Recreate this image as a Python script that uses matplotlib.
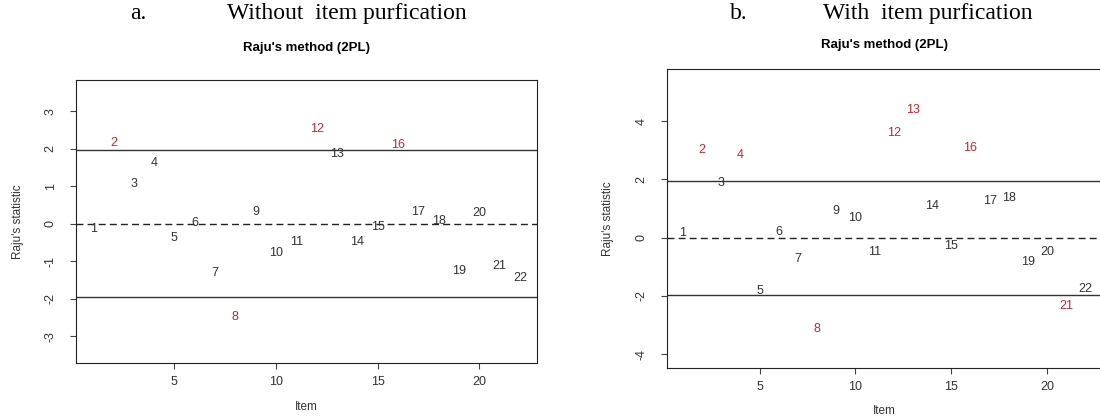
import numpy as np
from matplotlib import pyplot as plt

# Item numbers and Raju's statistic
items = list(range(1, 23))
raju_without = [-0.14, 2.17, 1.07, 1.62, -0.38, 0.03, -1.31, -2.47, 0.33, -0.77, -0.47,
                2.53, 1.87, -0.49, -0.09, 2.11, 0.33, 0.08, -1.25, 0.30, -1.11, -1.43]
raju_with = [0.14, 3.01, 1.88, 2.84, -1.84, 0.18, -0.74, -3.15, 0.92, 0.66, -0.49,
             3.58, 4.38, 1.09, -0.29, 3.07, 1.25, 1.37, -0.83, -0.51, -2.34, -1.75]
threshold = 1.96

panel_letters = ["a.", "b."]
panel_titles = ["Without  item purfication", "With  item purfication"]

text_col = '#333333'
red = '#cc2233'
sans = 'Liberation Sans'


def raju_panel(ax, values, yticks, ylim, title_pad):
	ax.axhline(threshold, color='#333333', lw=1)
	ax.axhline(-threshold, color='#333333', lw=1)
	ax.axhline(0, color='#222222', lw=1, ls=(0, (5, 3)))
	for i, v in zip(items, values):
		col = red if abs(v) > threshold else text_col
		ax.text(i, v, str(i), color=col, fontsize=9, ha='center', va='center',
			family=sans)
	ax.set_xlim(0.16, 22.84)
	ax.set_ylim(*ylim)
	ax.set_xticks([5, 10, 15, 20])
	ax.set_yticks(yticks)
	ax.set_yticklabels([str(t) for t in yticks], rotation=90, va='center', family=sans)
	ax.set_xticklabels(['5', '10', '15', '20'], family=sans)
	ax.tick_params(direction='out', length=4.5, color='#444444', labelcolor=text_col,
		labelsize=9)
	ax.tick_params(axis='x', pad=5)
	ax.tick_params(axis='y', pad=9.5)
	for s in ax.spines.values():
		s.set_color('#222222')
	ax.set_title("Raju's method (2PL)", fontsize=9.5, fontweight='bold', pad=title_pad,
		family=sans)
	ax.set_xlabel('Item', fontsize=8.5, color=text_col, labelpad=9, family=sans)
	ax.set_ylabel("Raju's statistic", fontsize=8.5, color=text_col, labelpad=15,
		family=sans)


fig = plt.figure(figsize=(11, 4.2), dpi=100)
ax1 = fig.add_axes([0.0691, 0.1357, 0.4191, 0.6738])
ax2 = fig.add_axes([0.6061, 0.1245, 0.3953, 0.7105])

raju_panel(ax1, raju_without, [-3, -2, -1, 0, 1, 2, 3], (-3.71, 3.84), 21)
raju_panel(ax2, raju_with, [-4, -2, 0, 2, 4], (-4.47, 5.78), 15)

fig.text(130 / 1100, 0.968, panel_letters[0], fontsize=17, family='Liberation Serif',
	va='center', ha='left')
fig.text(227 / 1100, 0.968, panel_titles[0], fontsize=17, family='Liberation Serif',
	va='center', ha='left')
fig.text(730 / 1100, 0.968, panel_letters[1], fontsize=17, family='Liberation Serif',
	va='center', ha='left')
fig.text(823 / 1100, 0.968, panel_titles[1], fontsize=17, family='Liberation Serif',
	va='center', ha='left')

plt.savefig('out.png', dpi=100)
